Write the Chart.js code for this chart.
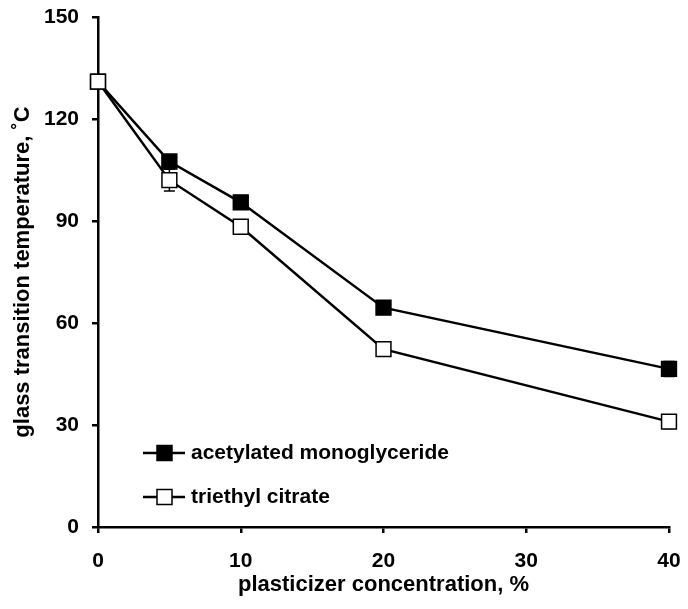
<!DOCTYPE html>
<html><head><meta charset="utf-8">
<script src="https://cdn.jsdelivr.net/npm/chart.js@4/dist/chart.umd.min.js"></script>
<style>html,body{margin:0;padding:0;background:#fff}#wrap{width:688px;height:609px}</style>
</head><body><div id="wrap"><canvas id="c" width="688" height="609"></canvas></div>
<script>
const concentrations = [0, 5, 10, 20, 40];
const amValues = [131, 107.5, 95.5, 64.5, 46.5];
const amErrors = [0.5, 0.8, 0.8, 0.8, 2.2];
const tecValues = [131, 102, 88.3, 52.3, 31];
const tecErrors = [0.5, 3.2, 0.8, 0.8, 2];
const seriesNames = ['acetylated monoglyceride', 'triethyl citrate'];
const xTicks = [0, 10, 20, 30, 40];
const yTicks = [0, 30, 60, 90, 120, 150];
const FONT = "'Liberation Sans', Arial, sans-serif";

const errorBars = {
  id: 'errorBars',
  beforeDatasetsDraw(chart) {
    const ctx = chart.ctx, xs = chart.scales.x, ys = chart.scales.y;
    ctx.save();
    ctx.strokeStyle = '#000'; ctx.lineWidth = 1.5;
    chart.data.datasets.forEach(ds => {
      ds.data.forEach((p, i) => {
        const e = ds.errors[i];
        const x = xs.getPixelForValue(p.x);
        const y1 = ys.getPixelForValue(p.y - e), y2 = ys.getPixelForValue(p.y + e);
        ctx.beginPath();
        ctx.moveTo(x, y1); ctx.lineTo(x, y2);
        ctx.moveTo(x - 5.5, y1); ctx.lineTo(x + 5.5, y1);
        ctx.moveTo(x - 5.5, y2); ctx.lineTo(x + 5.5, y2);
        ctx.stroke();
      });
    });
    ctx.restore();
  }
};

const customLegend = {
  id: 'customLegend',
  afterDatasetsDraw(chart) {
    const ctx = chart.ctx;
    ctx.save();
    const rows = [453, 497];
    chart.data.datasets.forEach((ds, i) => {
      const y = rows[i];
      ctx.strokeStyle = '#000'; ctx.lineWidth = 2.5;
      ctx.beginPath(); ctx.moveTo(143, y); ctx.lineTo(185, y); ctx.stroke();
      ctx.fillStyle = ds.pointBackgroundColor; ctx.lineWidth = 1.5;
      ctx.fillRect(157, y - 7.5, 15, 15);
      ctx.strokeRect(157, y - 7.5, 15, 15);
      ctx.fillStyle = '#000';
      ctx.font = "bold 21px " + FONT;
      ctx.textBaseline = 'middle'; ctx.textAlign = 'left';
      ctx.fillText(ds.label, 191, y);
    });
    ctx.restore();
  }
};

const mk = (vals) => concentrations.map((c, i) => ({x: c, y: vals[i]}));

new Chart(document.getElementById('c'), {
  type: 'scatter',
  data: {
    datasets: [
      { label: seriesNames[0], data: mk(amValues), errors: amErrors, showLine: true, clip: false, order: 2,
        borderColor: '#000', borderWidth: 2.5, pointStyle: 'rect', pointRadius: 10.5, pointHoverRadius: 10.5,
        pointBackgroundColor: '#000', pointBorderColor: '#000', pointBorderWidth: 1.5 },
      { label: seriesNames[1], data: mk(tecValues), errors: tecErrors, showLine: true, clip: false, order: 1,
        borderColor: '#000', borderWidth: 2.5, pointStyle: 'rect', pointRadius: 10.5, pointHoverRadius: 10.5,
        pointBackgroundColor: '#fff', pointBorderColor: '#000', pointBorderWidth: 1.5 }
    ]
  },
  options: {
    responsive: false, animation: false, events: [],
    layout: { padding: { top: 17, right: 19, left: 0, bottom: 0 } },
    plugins: { legend: { display: false }, tooltip: { enabled: false } },
    scales: {
      x: {
        type: 'linear', min: 0, max: 40,
        afterFit(s) { s.height = 82; s.paddingLeft = 0; s.paddingRight = 0; },
        afterBuildTicks(s) { s.ticks = xTicks.map(v => ({value: v})); },
        grid: { drawOnChartArea: false, drawTicks: true, tickLength: 6, color: '#000', lineWidth: 2.5 },
        border: { color: '#000', width: 2.5 },
        ticks: { color: '#000', font: { family: FONT, size: 21, weight: 'bold' }, padding: 16, maxRotation: 0 },
        title: { display: true, text: 'plasticizer concentration, %', color: '#000',
          font: { family: FONT, size: 22, weight: 'bold' }, padding: { top: 4, bottom: 11 } }
      },
      y: {
        type: 'linear', min: 0, max: 150,
        afterFit(s) { s.width = 98; s.paddingTop = 0; s.paddingBottom = 0; },
        afterBuildTicks(s) { s.ticks = yTicks.map(v => ({value: v})); },
        grid: { drawOnChartArea: false, drawTicks: true, tickLength: 6, color: '#000', lineWidth: 2.5 },
        border: { color: '#000', width: 2.5 },
        ticks: { color: '#000', font: { family: FONT, size: 21, weight: 'bold' }, padding: 13 },
        title: { display: true, text: 'glass transition temperature, ˚C', color: '#000',
          font: { family: FONT, size: 22, weight: 'bold' }, padding: { top: 10, bottom: 4 } }
      }
    }
  },
  plugins: [errorBars, customLegend]
});
</script></body></html>
